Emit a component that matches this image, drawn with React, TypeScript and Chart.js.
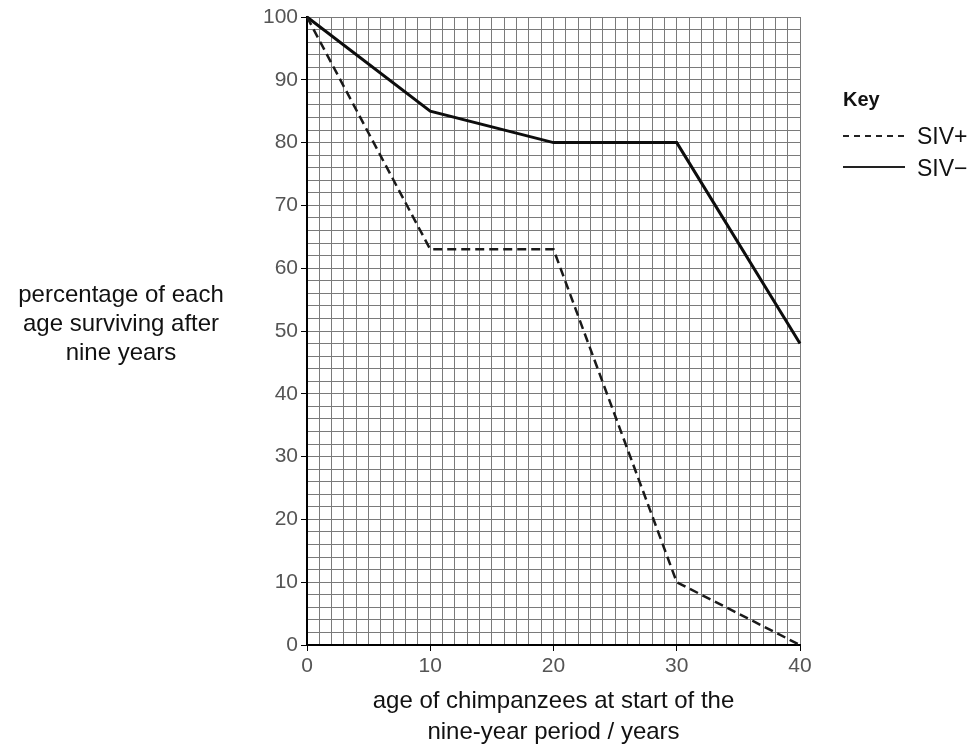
import React, { useEffect, useRef } from 'react';
import { Chart, registerables } from 'chart.js';

Chart.register(...registerables);

// ---- data ----
const ages = [0, 10, 20, 30, 40];
const sivPlus = [100, 63, 63, 10, 0];
const sivMinus = [100, 85, 80, 80, 48];
const xTickLabels = [0, 10, 20, 30, 40];
const yTickLabels = [0, 10, 20, 30, 40, 50, 60, 70, 80, 90, 100];
const seriesNames = ['SIV+', 'SIV\u2212'];
const keyTitle = 'Key';
const xTitleLines = ['age of chimpanzees at start of the', 'nine-year period / years'];
const yTitleLines = ['percentage of each', 'age surviving after', 'nine years'];

const FONT = '"Liberation Sans", Arial, Helvetica, sans-serif';

const overlayPlugin = {
  id: 'overlay',
  afterDraw(chart: any) {
    const ctx = chart.ctx;
    const area = chart.chartArea;
    ctx.save();
    ctx.fillStyle = '#111';
    // y-axis title (horizontal, left of the axis)
    ctx.font = `24px ${FONT}`;
    ctx.textAlign = 'center';
    ctx.textBaseline = 'alphabetic';
    const cx = 121;
    yTitleLines.forEach((t, i) => ctx.fillText(t, cx, 302 + i * 29));

    // key
    const kx = area.right + 43;
    ctx.textAlign = 'left';
    ctx.font = `bold 20px ${FONT}`;
    ctx.fillText(keyTitle, kx, 106);
    ctx.font = `23px ${FONT}`;
    ctx.strokeStyle = '#222';
    // SIV+ dashed
    ctx.lineWidth = 2;
    ctx.setLineDash([6, 5]);
    ctx.beginPath();
    ctx.moveTo(kx, 136);
    ctx.lineTo(kx + 62, 136);
    ctx.stroke();
    ctx.fillText(seriesNames[0], kx + 74, 144);
    // SIV- solid
    ctx.setLineDash([]);
    ctx.lineWidth = 2;
    ctx.beginPath();
    ctx.moveTo(kx, 167);
    ctx.lineTo(kx + 62, 167);
    ctx.stroke();
    ctx.fillText(seriesNames[1], kx + 74, 176);
    ctx.restore();
  },
};

export default function App() {
  const ref = useRef<HTMLCanvasElement | null>(null);

  useEffect(() => {
    if (!ref.current) return;
    const gridColor = '#7a7a7a';
    const chart = new Chart(ref.current, {
      type: 'line',
      data: {
        datasets: [
          {
            label: seriesNames[0],
            data: ages.map((a, i) => ({ x: a, y: sivPlus[i] })),
            borderColor: '#1a1a1a',
            borderWidth: 2.5,
            borderDash: [9, 5],
            pointRadius: 0,
            tension: 0,
            fill: false,
            clip: false as any,
          },
          {
            label: seriesNames[1],
            data: ages.map((a, i) => ({ x: a, y: sivMinus[i] })),
            borderColor: '#0d0d0d',
            borderWidth: 3,
            pointRadius: 0,
            tension: 0,
            fill: false,
            clip: false as any,
          },
        ],
      },
      options: {
        responsive: false,
        devicePixelRatio: 1,
        animation: false,
        layout: { padding: { left: 0, right: 178, top: 17, bottom: 0 } },
        plugins: {
          legend: { display: false },
          tooltip: { enabled: false },
        },
        scales: {
          x: {
            type: 'linear',
            min: 0,
            max: 40,
            afterFit: (s: any) => {
              s.height = 106;
            },
            border: { display: true, color: '#000', width: 2 },
            grid: {
              color: gridColor,
              lineWidth: 1,
              drawTicks: true,
              tickLength: 6,
              tickColor: (c: any) =>
                c.tick && xTickLabels.includes(c.tick.value) ? '#000' : 'rgba(0,0,0,0)',
            },
            ticks: {
              stepSize: 1,
              autoSkip: false,
              maxRotation: 0,
              padding: 3,
              color: '#555',
              font: { family: FONT, size: 21 },
              callback: (v: any) => (xTickLabels.includes(Number(v)) ? String(v) : ''),
            },
            title: {
              display: true,
              text: xTitleLines,
              color: '#111',
              font: { family: FONT, size: 24, lineHeight: 1.3 },
              padding: { top: 0, bottom: 3 },
            },
          },
          y: {
            type: 'linear',
            min: 0,
            max: 100,
            afterFit: (s: any) => {
              s.width = 307;
            },
            border: { display: true, color: '#000', width: 2 },
            grid: {
              color: gridColor,
              lineWidth: 1,
              drawTicks: true,
              tickLength: 6,
              tickColor: (c: any) =>
                c.tick && yTickLabels.includes(c.tick.value) ? '#000' : 'rgba(0,0,0,0)',
            },
            ticks: {
              stepSize: 2,
              autoSkip: false,
              padding: 3,
              color: '#555',
              font: { family: FONT, size: 21 },
              callback: (v: any) => (yTickLabels.includes(Number(v)) ? String(v) : ''),
            },
          },
        },
      } as any,
      plugins: [overlayPlugin],
    });
    return () => chart.destroy();
  }, []);

  return (
    <div style={{ position: 'absolute', left: 0, top: 0, width: 978, height: 751, background: '#fff' }}>
      <canvas ref={ref} width={978} height={751} style={{ display: 'block' }} />
    </div>
  );
}
